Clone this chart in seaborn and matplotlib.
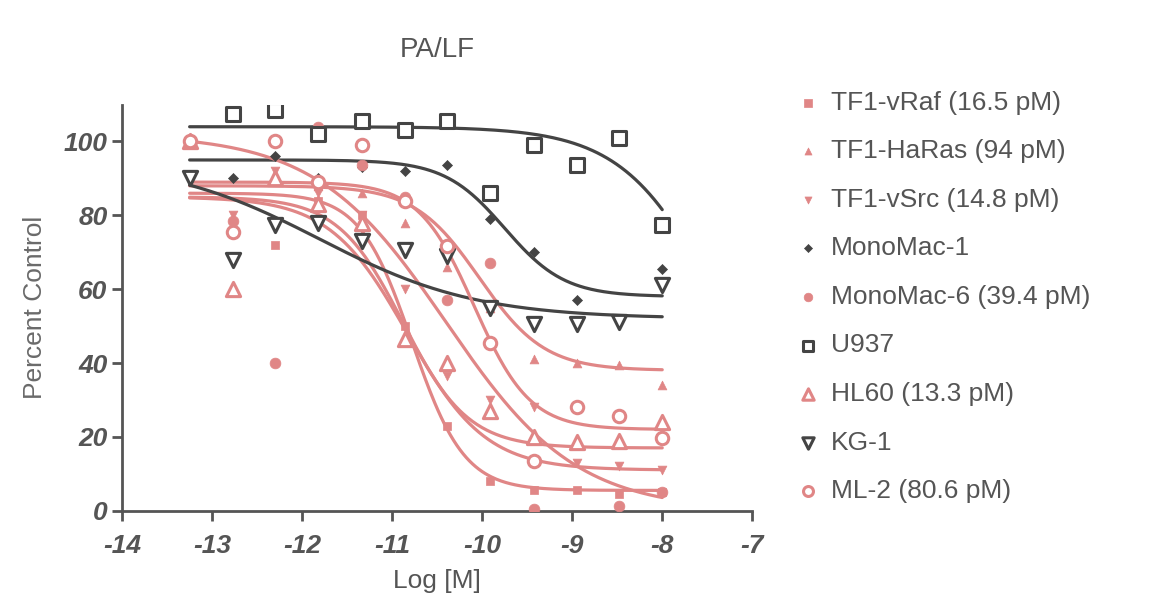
import numpy as np
import pandas as pd
import matplotlib
matplotlib.use("Agg")
import matplotlib.pyplot as plt
import seaborn as sns

# ---------------- data ----------------
log_conc = [-13.25, -12.77, -12.30, -11.82, -11.34, -10.86, -10.39, -9.91, -9.43, -8.95, -8.48, -8.0]

series_names = ["TF1-vRaf (16.5 pM)", "TF1-HaRas (94 pM)", "TF1-vSrc (14.8 pM)",
                "MonoMac-1", "MonoMac-6 (39.4 pM)", "U937", "HL60 (13.3 pM)",
                "KG-1", "ML-2 (80.6 pM)"]

tf1_vraf   = [100, 75, 72, 84, 80, 50, 23, 8, 5.5, 5.5, 4.5, 5]
tf1_haras  = [100, 77, 91, 88, 86, 78, 66, 55, 41, 40, 39.5, 34]
tf1_vsrc   = [100, 80, 92, 86, 80, 60, 36.5, 30, 28, 13, 12, 11]
monomac1   = [np.nan, 90, 96, 90, 93, 92, 93.5, 79, 70, 57, np.nan, 65.5]
monomac6   = [100, 78.5, 40, 104, 93.5, 85, 57, 67, 0.5, np.nan, 1.3, 5]
u937       = [np.nan, 107.5, 108.5, 102, 105.5, 103, 105.5, 86, 99, 93.5, 101, 77.5]
hl60       = [100, 60, 90, 83, 78, 46.5, 40, 27, 20, 18.6, 19, 24]
kg1        = [90, 68, 77.5, 78, 73, 70.5, 69, 55, 50.5, 50.5, 51, 61]
ml2        = [100, 75.5, 100, 89, 99, 84, 71.6, 45.5, 13.5, 28, 25.7, 19.7]

# fitted sigmoid parameters (top, bottom, logIC50, hill)
fit_top     = [86, 88, 85, 95, 102, 104, 85, 95, 89]
fit_bottom  = [5.5, 38, 11, 58, 0, 0, 17, 52, 22]
fit_logic50 = [-10.78, -10.03, -10.83, -9.75, -10.40, -7.30, -10.88, -11.80, -10.09]
fit_hill    = [1.5, 1.2, 1.0, 1.3, 0.6, 0.8, 1.2, 0.5, 1.4]

# ---------------- styling ----------------
PINK = "#e08686"
DARK = "#444444"
TXT = "#555555"

styles = [
    dict(marker="s", color=PINK, open=False, s=40),
    dict(marker="^", color=PINK, open=False, s=40),
    dict(marker="v", color=PINK, open=False, s=40),
    dict(marker="D", color=DARK, open=False, s=26),
    dict(marker="o", color=PINK, open=False, s=60),
    dict(marker="s", color=DARK, open=True, s=95),
    dict(marker="^", color=PINK, open=True, s=105),
    dict(marker="v", color=DARK, open=True, s=105),
    dict(marker="o", color=PINK, open=True, s=80),
]
values = [tf1_vraf, tf1_haras, tf1_vsrc, monomac1, monomac6, u937, hl60, kg1, ml2]

sns.set_theme(style="ticks")
plt.rcParams["font.family"] = ["Liberation Sans", "DejaVu Sans"]
plt.rcParams["axes.unicode_minus"] = False

fig = plt.figure(figsize=(11.52, 6.08), dpi=100)
ax = fig.add_axes([0.106, 0.16, 0.547, 0.668])

# curves
xgrid = np.linspace(min(log_conc), max(log_conc), 300)
for i, name in enumerate(series_names):
    top, bot, ic, h = fit_top[i], fit_bottom[i], fit_logic50[i], fit_hill[i]
    yfit = bot + (top - bot) / (1 + 10 ** ((xgrid - ic) * h))
    cdf = pd.DataFrame({"x": xgrid, "y": yfit})
    sns.lineplot(data=cdf, x="x", y="y", ax=ax, color=styles[i]["color"],
                 lw=2.3, legend=False, zorder=2, label="_nolegend_")

# points
handles = []
for i, name in enumerate(series_names):
    df = pd.DataFrame({"x": log_conc, "y": values[i]}).dropna()
    st = styles[i]
    sns.scatterplot(data=df, x="x", y="y", ax=ax, marker=st["marker"], s=st["s"],
                    color=st["color"], edgecolor=st["color"],
                    linewidth=2.2 if st["open"] else 0.5, label=name, zorder=3)
    coll = ax.collections[-1]
    if st["open"]:
        coll.set_facecolor("white")
    handles.append(coll)

ax.set_xlim(-14, -7)
ax.set_ylim(0, 110)
ax.set_xticks(range(-14, -6))
ax.set_yticks(range(0, 101, 20))
sns.despine(ax=ax)
for sp in ["left", "bottom"]:
    ax.spines[sp].set_color(TXT)
    ax.spines[sp].set_linewidth(2)
ax.tick_params(axis="both", colors=TXT, width=2, length=7, labelsize=19)
ax.tick_params(axis="x", pad=10)
for lab in ax.get_xticklabels() + ax.get_yticklabels():
    lab.set_fontweight("bold")
    lab.set_fontstyle("italic")

ax.set_xlabel("Log [M]", fontsize=19, color=TXT, labelpad=8)
ax.set_ylabel("Percent Control", fontsize=19, color="#6a6a6a", labelpad=12)
ax.set_title("PA/LF", fontsize=20, color=TXT, pad=34)

leg = ax.legend(handles=handles, labels=series_names, loc="upper left",
                bbox_to_anchor=(1.05, 1.06), frameon=False, fontsize=19,
                labelspacing=0.93, handletextpad=0.4, handlelength=1.0,
                borderaxespad=0, markerscale=0.8)
for t in leg.get_texts():
    t.set_color(TXT)

fig.savefig("out.png", dpi=100)
